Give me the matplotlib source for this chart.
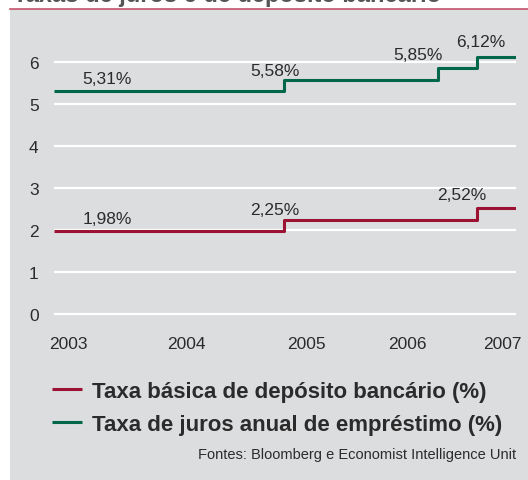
import matplotlib
matplotlib.use("Agg")
import matplotlib.pyplot as plt
from matplotlib.patches import Rectangle
from matplotlib.lines import Line2D

# ---- data ----
step_x = [2002.88, 2004.84, 2006.15, 2006.48, 2006.81]   # change points (axis units)
lending = [5.31, 5.58, 5.85, 6.12, 6.12]
deposit = [1.98, 2.25, 2.25, 2.52, 2.52]
tick_pos = [2003.0, 2004.01, 2005.03, 2005.89, 2006.69]
tick_labels = ["2003", "2004", "2005", "2006", "2007"]
yticks = [0, 1, 2, 3, 4, 5, 6]

lend_lbl_vals = [5.31, 5.58, 5.85, 6.12]
lend_lbl_x = [2003.33, 2004.76, 2005.98, 2006.51]
lend_lbl_off = [9, 6.5, 10, 11]
dep_lbl_vals = [1.98, 2.25, 2.52]
dep_lbl_x = [2003.33, 2004.76, 2006.35]
dep_lbl_off = [9, 7, 10]

title = "Taxas de juros e de depósito bancário"
leg_dep = "Taxa básica de depósito bancário (%)"
leg_lend = "Taxa de juros anual de empréstimo (%)"
source = "Fontes: Bloomberg e Economist Intelligence Unit"

RED = "#9c1232"
GREEN = "#00674b"
GRAY = "#dcdddf"
TXT = "#2b2b2b"

plt.rcParams['font.family'] = ['Liberation Sans', 'DejaVu Sans']

W, H = 528, 481
fig = plt.figure(figsize=(W / 100, H / 100), dpi=100, facecolor="white")

# background panel
fig.patches.append(Rectangle((10 / W, 0), 1 - 10 / W, (H - 10) / H,
                             transform=fig.transFigure, facecolor=GRAY,
                             edgecolor="none", zorder=-5))
fig.lines.append(Line2D([10 / W, 1], [(H - 10) / H] * 2, transform=fig.transFigure,
                        color="#c4546c", lw=1.2, zorder=-4))
fig.text(13 / W, 1 - 2 / H, title, fontsize=17, fontweight="bold",
         color="#555555", ha="left", va="baseline")

# axes: x 54..516 px, y 0 at 315 px, 42 px per unit
ymin, ymax = -0.3, 6.6
ax_bottom = (H - (315 + (-ymin) * 42)) / H
ax_height = (ymax - ymin) * 42 / H
ax = fig.add_axes([54 / W, ax_bottom, 462 / W, ax_height])
ax.set_zorder(3)
ax.patch.set_visible(False)
for s in ax.spines.values():
    s.set_visible(False)
ax.set_xlim(step_x[0], step_x[-1])
ax.set_ylim(ymin, ymax)
ax.set_yticks(yticks)
ax.set_yticklabels([str(v) for v in yticks])
ax.set_xticks(tick_pos)
ax.set_xticklabels(tick_labels)
ax.tick_params(axis="both", length=0, labelsize=12.5, labelcolor=TXT)
ax.tick_params(axis="y", pad=11)
ax.tick_params(axis="x", pad=6.5)
ax.xaxis.grid(False)
ax.yaxis.grid(True, color="white", lw=1.6)
ax.set_axisbelow(True)

ax.plot(step_x, deposit, drawstyle="steps-post", color=RED, lw=2.2,
        solid_capstyle="butt", label=leg_dep)
ax.plot(step_x, lending, drawstyle="steps-post", color=GREEN, lw=2.2,
        solid_capstyle="butt", label=leg_lend)

def fmt(v):
    return f"{v:.2f}".replace(".", ",") + "%"

for v, x, o in zip(lend_lbl_vals, lend_lbl_x, lend_lbl_off):
    ax.annotate(fmt(v), xy=(x, v), xytext=(0, o), textcoords="offset points",
                ha="center", va="center", fontsize=12.5, color=TXT)
for v, x, o in zip(dep_lbl_vals, dep_lbl_x, dep_lbl_off):
    ax.annotate(fmt(v), xy=(x, v), xytext=(0, o), textcoords="offset points",
                ha="center", va="center", fontsize=12.5, color=TXT)

leg = fig.legend(loc="upper left", bbox_to_anchor=(52 / W, 1 - 382 / H),
                 frameon=False, fontsize=16, handlelength=1.35,
                 handletextpad=0.45, labelspacing=0.55, borderpad=0,
                 borderaxespad=0)
for t in leg.get_texts():
    t.set_fontweight("bold")
    t.set_color(TXT)

fig.text(516 / W, 1 - 455 / H, source, fontsize=10.5, color=TXT,
         ha="right", va="center")

fig.savefig("out.png", dpi=100, facecolor="white")
